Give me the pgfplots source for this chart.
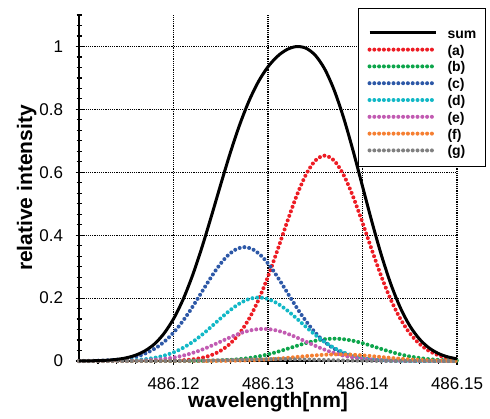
\documentclass[border=0pt]{standalone}
\usepackage{fontspec}
\setmainfont{Liberation Sans}
\usepackage{pgfplots}
\pgfplotsset{compat=1.18}
\definecolor{ca}{HTML}{ED1C24}
\definecolor{cb}{HTML}{0DA54B}
\definecolor{cc}{HTML}{2D58A7}
\definecolor{cd}{HTML}{12B8C6}
\definecolor{ce}{HTML}{C25BB2}
\definecolor{cf}{HTML}{F57F32}
\definecolor{cg}{HTML}{808080}
\newcommand\ls{\rule[-1.7pt]{0pt}{8.6pt}}
% x values: (wavelength - 486.11 nm) * 1000
\begin{document}
\begin{tikzpicture}
\begin{axis}[
  scale only axis, width=189pt, height=173pt,
  xmin=0, xmax=40, ymin=0, ymax=1.1,
  axis x line*=bottom, axis y line*=left,
  axis line style={line width=1pt,-},
  xtick={10,20,30,40},
  xticklabels={486.12,486.13,486.14,486.15},
  ytick={0,0.2,0.4,0.6,0.8,1},
  yticklabels={0,0.2,0.4,0.6,0.8,1},
  minor xtick={2,4,6,8,12,14,16,18,22,24,26,28,32,34,36,38},
  minor ytick={0.0333,0.0667,0.1,0.1333,0.1667,0.2333,0.2667,0.3,0.3333,0.3667,0.4333,0.4667,0.5,0.5333,0.5667,0.6333,0.6667,0.7,0.7333,0.7667,0.8333,0.8667,0.9,0.9333,0.9667,1.0333,1.0667,1.1},
  tick align=center,
  major tick length=3.5pt, minor tick length=2.5pt,
  tick style={black, line width=0.6pt},
  grid=major,
  major grid style={black, line width=0.6pt, dash pattern=on 0.6pt off 0.5pt},
  /pgf/number format/assume math mode=true,
  tick label style={font=\fontsize{8.5}{10}\selectfont},
  xticklabel style={yshift=-3pt},
  yticklabel style={xshift=-2.7pt},
  xlabel={wavelength[nm]}, ylabel={relative intensity},
  label style={font=\fontsize{10.5}{12}\selectfont\bfseries},
  xlabel style={at={(axis description cs:0.5,0)}, anchor=base, yshift=-23pt},
  ylabel style={at={(axis description cs:-0.124,0.5)}, anchor=base},
  clip=false,
  legend style={at={(1.0767,1.0202)}, anchor=north east, draw=black, line width=0.7pt, fill=white,
    font=\fontsize{7}{8}\selectfont\bfseries, inner xsep=4.5pt, inner ysep=3.9pt,
    row sep=0pt, nodes={inner sep=0pt},
    /tikz/every odd column/.append style={column sep=5pt}},
  legend cell align=left,
  legend image code/.code={\draw[#1] (0pt,0pt) -- (33pt,0pt);},
  legend entries={{\ls sum},{\ls (a)},{\ls (b)},{\ls (c)},{\ls (d)},{\ls (e)},{\ls (f)},{\ls (g)}},
  comp/.style={line width=2pt, line cap=round, dash pattern=on 0pt off 2.4pt, smooth},
]
\addlegendimage{legend image code/.code={\draw[black, line width=1.5pt] (0pt,0pt) -- (33pt,0pt); \path (0pt,7.8pt);}}
% (a)
\addplot[comp, ca] coordinates {(0,0) (10,.0012) (11,.0025) (12,.0052) (13,.0101) (14,.0187) (15,.0329) (16,.0553) (17,.0884) (18,.1345) (19,.1947) (20,.2684) (21,.3522) (22,.4399) (23,.5229) (24,.5916) (25,.6371) (26,.653) (27,.6371) (28,.5916) (29,.5229) (30,.4399) (31,.3522) (32,.2684) (33,.1947) (34,.1345) (35,.0884) (36,.0553) (37,.0329) (38,.0187) (39,.0101) (40,.0052)};
% (b)
\addplot[comp, cb] coordinates {(0,0) (11,.0001) (12,.0003) (13,.0006) (14,.0011) (15,.0020) (16,.0036) (17,.0060) (18,.0096) (19,.0146) (20,.0212) (21,.0292) (22,.0383) (23,.0478) (24,.0569) (25,.0643) (26,.0693) (27,.071) (28,.0693) (29,.0643) (30,.0569) (31,.0478) (32,.0383) (33,.0292) (34,.0212) (35,.0146) (36,.0096) (37,.0060) (38,.0036) (39,.0020) (40,.0011)};
% (c)
\addplot[comp, cc] coordinates {(0,0) (1.5,.0007) (2.5,.0014) (3.5,.0029) (4.5,.0056) (5.5,.0104) (6.5,.0182) (7.5,.0307) (8.5,.0490) (9.5,.0745) (10.5,.1079) (11.5,.1488) (12.5,.1953) (13.5,.2438) (14.5,.2899) (15.5,.3280) (16.5,.3532) (17.5,.362) (18.5,.3532) (19.5,.3280) (20.5,.2899) (21.5,.2438) (22.5,.1953) (23.5,.1488) (24.5,.1079) (25.5,.0745) (26.5,.0490) (27.5,.0307) (28.5,.0182) (29.5,.0104) (30.5,.0056) (31.5,.0029) (32.5,.0014) (33.5,.0007) (40,0)};
% (d)
\addplot[comp, cd] coordinates {(0,0) (3,.0004) (4,.0008) (5,.0016) (6,.0031) (7,.0058) (8,.0102) (9,.0171) (10,.0273) (11,.0416) (12,.0602) (13,.0830) (14,.1090) (15,.1361) (16,.1617) (17,.1830) (18,.1971) (19,.202) (20,.1971) (21,.1830) (22,.1617) (23,.1361) (24,.1090) (25,.0830) (26,.0602) (27,.0416) (28,.0273) (29,.0171) (30,.0102) (31,.0058) (32,.0031) (33,.0016) (34,.0008) (35,.0004) (40,0)};
% (e)
\addplot[comp, ce] coordinates {(0,0) (3.5,.0002) (4.5,.0004) (5.5,.0008) (6.5,.0016) (7.5,.0029) (8.5,.0051) (9.5,.0086) (10.5,.0138) (11.5,.0210) (12.5,.0304) (13.5,.0419) (14.5,.0550) (15.5,.0687) (16.5,.0817) (17.5,.0924) (18.5,.0995) (19.5,.102) (20.5,.0995) (21.5,.0924) (22.5,.0817) (23.5,.0687) (24.5,.0550) (25.5,.0419) (26.5,.0304) (27.5,.0210) (28.5,.0138) (29.5,.0086) (30.5,.0051) (31.5,.0029) (32.5,.0016) (33.5,.0008) (34.5,.0004) (35.5,.0002) (40,0)};
% (f)
\addplot[comp, cf] coordinates {(0,0) (12.5,.0001) (13.5,.0002) (14.5,.0003) (15.5,.0006) (16.5,.0011) (17.5,.0018) (18.5,.0028) (19.5,.0043) (20.5,.0063) (21.5,.0086) (22.5,.0113) (23.5,.0141) (24.5,.0168) (25.5,.0190) (26.5,.0205) (27.5,.021) (28.5,.0205) (29.5,.0190) (30.5,.0168) (31.5,.0141) (32.5,.0113) (33.5,.0086) (34.5,.0063) (35.5,.0043) (36.5,.0028) (37.5,.0018) (38.5,.0011) (39.5,.0006) (40,.0004)};
% (g)
\addplot[comp, cg] coordinates {(0,0) (8,.0001) (9,.0002) (10,.0003) (11,.0005) (12,.0008) (13,.0012) (14,.0018) (15,.0025) (16,.0032) (17,.0040) (18,.0048) (19,.0054) (20,.0059) (21,.006) (22,.0059) (23,.0054) (24,.0048) (25,.0040) (26,.0032) (27,.0025) (28,.0018) (29,.0012) (30,.0008) (31,.0005) (32,.0003) (33,.0002) (34,.0001) (40,0)};
% sum
\addplot[black, line width=1.5pt, smooth, forget plot] coordinates {(0,.0002) (1,.0005) (2,.0012) (3,.0026) (4,.0052) (5,.0101) (6,.0186) (7,.0327) (8,.0545) (9,.0877) (10,.1338) (11,.1948) (12,.2710) (13,.3605) (14,.4594) (15,.5616) (16,.6609) (17,.7509) (18,.8275) (19,.8889) (20,.9354) (21,.9687) (22,.9901) (23,.9997) (24,.9947) (25,.9721) (26,.9282) (27,.8613) (28,.7733) (29,.6688) (30,.5555) (31,.4421) (32,.3365) (33,.2446) (34,.1696) (35,.1121) (36,.0708) (37,.0426) (38,.0243) (39,.0133) (40,.0069)};
\end{axis}
\path ([xshift=-39.5pt,yshift=-26.5pt]current axis.south west) rectangle ([xshift=16.5pt,yshift=7.5pt]current axis.north east);
\end{tikzpicture}
\end{document}
